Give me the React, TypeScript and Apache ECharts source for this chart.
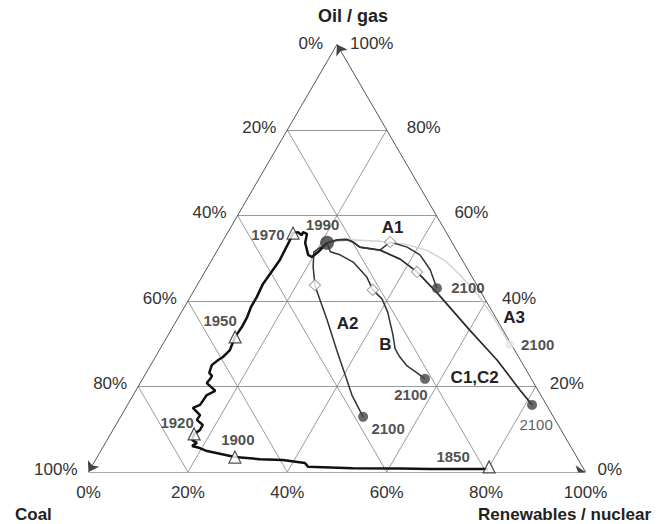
import React, { useEffect, useRef } from "react";
import * as echarts from "echarts";

// Ternary points are [renewables/nuclear %, oil/gas %]; coal = 100 - both.
const TICKS = [0, 20, 40, 60, 80, 100];
const TICK_LABELS = ["0%", "20%", "40%", "60%", "80%", "100%"];

const HISTORY: [number, number][] = [
  [80.0, 0.7], [76.4, 0.7], [68.4, 0.7], [62.3, 0.8], [52.7, 0.9], [43.6, 1.2], [42.5, 2.1],
  [37.7, 2.8], [33.0, 3.0], [27.7, 3.5], [21.4, 4.9], [19.6, 5.6], [17.8, 6.1], [18.4, 6.8],
  [17.1, 7.5], [16.8, 8.9], [17.5, 9.8], [17.5, 11.0], [15.7, 12.2], [15.8, 13.3], [13.5, 15.0],
  [14.6, 15.7], [14.8, 18.0], [16.0, 19.0], [14.7, 19.9], [13.4, 20.8], [13.6, 21.8], [13.6, 22.5],
  [12.7, 23.2], [12.3, 25.0], [13.0, 26.2], [13.6, 26.9], [14.2, 28.5], [14.0, 29.7], [13.7, 31.6],
  [13.9, 33.9], [13.8, 36.3], [13.4, 38.6], [13.4, 40.9], [13.1, 44.0], [13.3, 45.6], [13.7, 49.6],
  [13.4, 54.3], [13.2, 55.9], [14.1, 56.1], [15.2, 55.4], [15.1, 56.1], [16.1, 55.7], [16.8, 53.6],
  [18.8, 50.8], [19.8, 50.3], [20.5, 51.5], [21.2, 53.6],
];
const HISTORY_YEARS = ["1850", "1900", "1920", "1950", "1970"];
const HISTORY_MARKS: [number, number][] = [[80.0, 1.2], [27.7, 3.5], [16.8, 8.9], [13.7, 31.6], [13.2, 55.9]];
const YEAR_1990: [number, number] = [21.2, 53.6];

const SCEN_A1: [number, number][] = [
  [21.2, 53.6], [22.9, 54.3], [24.8, 54.4], [26.3, 53.8], [28.3, 52.6], [32.7, 51.9], [33.8, 53.8],
  [37.8, 52.6], [41.3, 50.8], [45.1, 47.3], [48.6, 43.0],
];
const SCEN_C: [number, number][] = [
  [21.2, 53.6], [22.9, 54.3], [24.8, 54.4], [26.3, 53.8], [28.3, 52.6], [32.7, 51.9], [37.8, 49.8],
  [42.7, 46.8], [49.2, 41.9], [60.1, 33.2], [69.1, 26.2], [77.2, 19.2], [81.4, 15.7],
];
const SCEN_B: [number, number][] = [
  [21.2, 53.6], [22.9, 51.5], [25.2, 50.8], [28.7, 49.1], [33.2, 45.6], [35.9, 42.6], [38.8, 40.5],
  [41.5, 37.4], [45.2, 32.1], [47.3, 28.8], [49.2, 26.9], [51.7, 24.8], [54.5, 23.2], [56.8, 21.8],
];
const SCEN_A2: [number, number][] = [
  [21.2, 53.6], [19.6, 51.5], [21.2, 48.0], [23.7, 43.7], [26.5, 40.2], [30.2, 35.6], [35.7, 28.5],
  [40.3, 22.7], [44.0, 18.0], [48.8, 12.9],
];
const SCEN_A3: [number, number][] = [
  [21.2, 53.6], [25.5, 54.3], [31.6, 54.0], [37.0, 53.3], [42.1, 51.9], [47.1, 49.4], [51.7, 46.1],
  [57.7, 41.4], [63.6, 36.0], [69.8, 29.9],
];
const DIAMONDS: [number, number][] = [[33.8, 53.8], [23.7, 43.7], [35.9, 42.6], [42.7, 46.8]];
const ENDS_2100: [number, number][] = [[48.6, 43.0], [48.8, 12.9], [56.8, 21.8], [81.4, 15.7]];
const END_A3: [number, number] = [69.8, 29.9];
const SCENARIO_NAMES = ["A1", "A2", "B", "C1,C2", "A3"];

// ---- layout / styles ----
const W = 665, H = 524;
const GL = 88.5, GT = 44.5, GW = 497, GH = 427.5;
const FONT = '"Liberation Sans", Arial, sans-serif';
const YEAR_OFFSETS: Record<string, [number, number]> = {
  "1850": [-36, -10], "1900": [3, -18], "1920": [-17, -11], "1950": [-15, -16], "1970": [-25, 1],
};
const END_OFFSETS: [number, number][] = [[31, -1], [25, 12], [-14, 16], [4, 20]];
const SCEN_LABEL_POS: [number, number][] = [[392.5, 227], [347.5, 323], [385.5, 344], [474.7, 377], [514, 317]];

const toXY = (p: [number, number]) => [p[0] + p[1] / 2, p[1]];
const px = (p: [number, number]) => {
  const [x, y] = toXY(p);
  return [GL + (x / 100) * GW, GT + GH - (y / 100) * GH];
};

function txt(x: number, y: number, t: string, size: number, bold: boolean, align: string, fill = "#222") {
  return {
    type: "text",
    x,
    y,
    silent: true,
    style: {
      text: t,
      font: `${bold ? "bold " : ""}${size}px ${FONT}`,
      fill,
      align,
      verticalAlign: "middle",
      textAlign: align,
      textVerticalAlign: "middle",
    },
  };
}

export default function App() {
  const ref = useRef<HTMLDivElement>(null);
  useEffect(() => {
    document.body.style.margin = "0";
    if (!ref.current) return;
    const chart = echarts.init(ref.current, undefined, { renderer: "svg" });

    const inner = TICKS.slice(1, -1);
    const gridSegs: number[][][] = [];
    inner.forEach((t) => {
      gridSegs.push([toXY([0, t]), toXY([100 - t, t])]);
      gridSegs.push([toXY([t, 0]), toXY([t, 100 - t])]);
      gridSegs.push([toXY([100 - t, 0]), toXY([0, 100 - t])]);
    });
    const edges = [
      [toXY([0, 0]), toXY([100, 0])],
      [toXY([100, 0]), toXY([0, 100])],
      [toXY([0, 100]), toXY([0, 0])],
    ];

    const pathSeries = (data: [number, number][], color: string, width: number) => ({
      type: "line",
      data: data.map(toXY),
      symbol: "none",
      showSymbol: false,
      silent: true,
      z: 3,
      lineStyle: { color, width },
    });

    const labelStyle = { show: true, position: "inside", fontFamily: FONT, fontWeight: "bold", fontSize: 15, color: "#222" };

    const graphic: any[] = [];
    graphic.push(txt(353, 16, "Oil / gas", 18, true, "center"));
    graphic.push(txt(323, 43, "0%", 17, false, "right", "#333"));
    graphic.push(txt(350, 43, "100%", 17, false, "left", "#333"));
    TICKS.forEach((t, i) => {
      const g = t;
      if (g < 100) {
        const [lx, ly] = px([0, g]);
        graphic.push(txt(lx - 11, ly - 3, TICK_LABELS[5 - i], 17, false, "right", "#333"));
        const [rx, ry] = px([100 - g, g]);
        graphic.push(txt(rx + 12 + g / 10, ry - 3, TICK_LABELS[i], 17, false, "left", "#333"));
      }
      const [bx, by] = px([t, 0]);
      graphic.push(txt(bx, by + 20, TICK_LABELS[i], 17, false, "center", "#333"));
    });
    graphic.push(txt(15, 514, "Coal", 17, true, "left"));
    graphic.push(txt(651, 514, "Renewables / nuclear", 17, true, "right"));
    SCENARIO_NAMES.forEach((n, i) => {
      graphic.push(txt(SCEN_LABEL_POS[i][0], SCEN_LABEL_POS[i][1], n, 17, true, "center"));
    });

    chart.setOption({
      animation: false,
      grid: { left: GL, top: GT, width: GW, height: GH },
      xAxis: { type: "value", min: 0, max: 100, show: false },
      yAxis: { type: "value", min: 0, max: 100, show: false },
      series: [
        {
          type: "lines",
          coordinateSystem: "cartesian2d",
          silent: true,
          z: 1,
          data: gridSegs.map((c) => ({ coords: c })),
          lineStyle: { color: "#808080", width: 0.8, opacity: 1 },
        },
        {
          type: "lines",
          coordinateSystem: "cartesian2d",
          silent: true,
          z: 2,
          symbol: ["none", "arrow"],
          symbolSize: 10,
          data: edges.map((c) => ({ coords: c })),
          lineStyle: { color: "#444", width: 0.9, opacity: 1 },
        },
        pathSeries(SCEN_A3, "#d2d2d2", 1.5),
        pathSeries(SCEN_A2, "#333", 1.5),
        pathSeries(SCEN_B, "#333", 1.5),
        pathSeries(SCEN_C, "#2a2a2a", 1.7),
        pathSeries(SCEN_A1, "#333", 1.5),
        pathSeries(HISTORY, "#111", 2.5),
        {
          type: "scatter",
          z: 5,
          silent: true,
          symbol: "rect",
          symbolRotate: 45,
          symbolSize: 8,
          itemStyle: { color: "#fff", borderColor: "#888", borderWidth: 1 },
          data: DIAMONDS.map(toXY),
        },
        {
          type: "scatter",
          z: 5,
          silent: true,
          symbol: "triangle",
          symbolSize: 12,
          itemStyle: { color: "#fff", borderColor: "#222", borderWidth: 1.2 },
          label: { ...labelStyle, formatter: "{b}" },
          data: HISTORY_MARKS.map((p, i) => ({
            name: HISTORY_YEARS[i],
            value: toXY(p),
            label: { offset: YEAR_OFFSETS[HISTORY_YEARS[i]] },
          })),
        },
        {
          type: "scatter",
          z: 6,
          silent: true,
          symbol: "circle",
          symbolSize: 14,
          itemStyle: { color: "#3a3a3a" },
          label: { ...labelStyle, formatter: "1990", offset: [-4.5, -18] },
          data: [toXY(YEAR_1990)],
        },
        {
          type: "scatter",
          z: 6,
          silent: true,
          symbol: "circle",
          symbolSize: 10,
          itemStyle: { color: "#444" },
          label: { ...labelStyle, formatter: "2100" },
          data: ENDS_2100.map((p, i) => ({
            value: toXY(p),
            label: i === 3 ? { offset: END_OFFSETS[i], fontWeight: "normal", color: "#333" } : { offset: END_OFFSETS[i] },
          })),
        },
        {
          type: "scatter",
          z: 6,
          silent: true,
          symbol: "circle",
          symbolSize: 9,
          itemStyle: { color: "#e6e6e6" },
          label: { ...labelStyle, formatter: "2100", offset: [28, 0] },
          data: [toXY(END_A3)],
        },
      ],
      graphic,
    });
    return () => chart.dispose();
  }, []);
  return <div ref={ref} style={{ width: W, height: H }} />;
}
